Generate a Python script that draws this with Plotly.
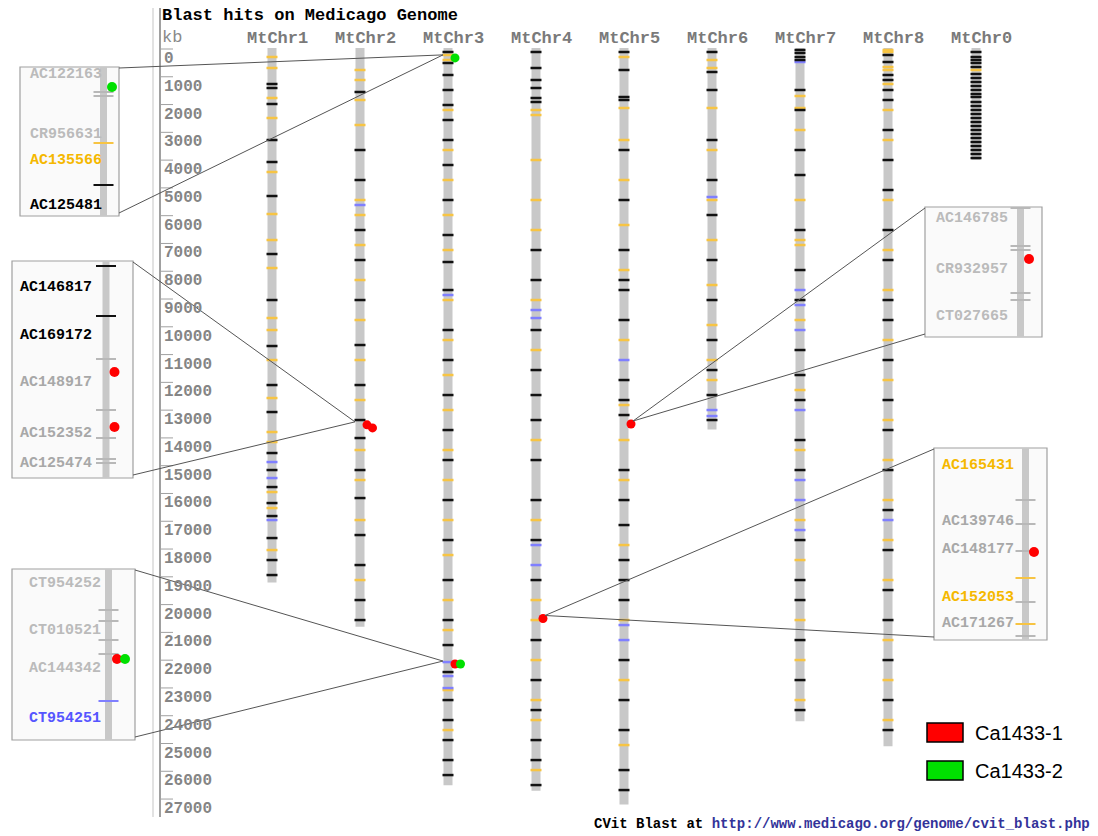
import plotly.graph_objects as go

# ---------------- page geometry (pixels) ----------------
W, H = 1098, 836
X0, DX = 272.0, 88.0            # x pixel of MtChr1 centre, spacing between chromosomes
Y0, PX_PER_KB = 49.0, 0.02778   # y pixel of 0 kb, pixels per kb

# ---------------- data ----------------
chrom_names = ["MtChr1", "MtChr2", "MtChr3", "MtChr4", "MtChr5",
               "MtChr6", "MtChr7", "MtChr8", "MtChr0"]
chrom_len_kb = [19200, 20800, 26500, 26700, 27200, 13700, 24200, 25100, 4000]

# BAC / clone bands (kb) by colour class, one list per chromosome
black_bands = [
    [1260, 1404, 1980, 3276, 4068, 5292, 7380, 9036, 10692, 12096, 13068, 14544,
     15156, 15768, 16344, 16812, 17604, 18396, 18936],
    [1548, 3636, 4716, 6516, 7596, 9036, 10656, 12096, 13356, 14004, 15156, 16164,
     17496, 18576, 19836, 20556],
    [108, 504, 936, 1476, 2016, 2556, 3276, 4176, 5436, 6696, 7668, 8676, 10116,
     11196, 12456, 13716, 14796, 16236, 17676, 19116, 20556, 21456, 22428, 23436,
     24156, 24876, 25596, 26136],
    [108, 684, 1116, 1404, 1764, 1908, 7236, 8316, 10116, 11556, 12456, 13356,
     14796, 16236, 17676, 19116, 21276, 22716, 23796, 24876, 25596, 26496],
    [108, 756, 1728, 1836, 3636, 5436, 7236, 8316, 8676, 9756, 11916, 12636, 13176,
     15156, 16236, 17136, 18396, 19116, 19836, 21996, 23436, 24516, 25956, 26676],
    [108, 828, 1476, 3276, 4716, 5976, 7596, 9036, 10476, 11556, 12456, 13356],
    [36, 144, 288, 396, 1476, 2196, 3636, 4536, 6516, 7956, 9036, 10836, 11736,
     12636, 14076, 15156, 17676, 19116, 19836, 21276, 22716, 23796],
    [216, 468, 936, 1116, 1476, 1836, 2916, 3996, 5076, 6516, 7596, 9036, 9756,
     11196, 12636, 13716, 15156, 16596, 18036, 19476, 20556, 21996, 23436, 24516],
    [108, 288, 396, 504, 648, 900, 1044, 1188, 1332, 1476, 1620, 1728, 1908, 2052,
     2196, 2340, 2484, 2628, 2772, 2916, 3060, 3204, 3348, 3492, 3636, 3780, 3924],
]
orange_bands = [
    [288, 684, 1764, 2484, 4428, 5940, 6876, 7884, 9684, 10116, 11196, 12564,
     13788, 14148, 15948, 16524, 18036],
    [756, 1116, 1836, 2736, 5436, 5976, 7056, 8316, 9756, 11196, 12636, 14436,
     15516, 16956, 19116],
    [216, 396, 2196, 3636, 4716, 5976, 7236, 9036, 10476, 11736, 12996, 14436,
     15516, 16956, 18216, 19836, 20916, 23076, 24516],
    [2196, 2376, 3996, 5436, 6516, 9036, 10836, 14076, 16956, 19836, 20556, 21996,
     23436, 24156, 25956],
    [288, 2124, 3276, 4716, 6336, 7956, 10476, 12816, 14076, 15516, 17856, 20556,
     22716, 25056],
    [396, 684, 2124, 3636, 5436, 6876, 8496, 9936, 11196, 11916],
    [1692, 2124, 2916, 5436, 6876, 7056, 9756, 12276, 14436, 16956, 18396, 20556,
     21996, 23436],
    [36, 108, 648, 756, 1260, 2196, 3276, 5436, 7236, 8676, 10476, 11916, 13356,
     14796, 16236, 17676, 19116, 21276, 22716, 24156],
    [756],
]
blue_bands = [
    [14868, 15444, 16956],
    [5616],
    [8856, 22068, 22572, 23004],
    [9396, 9684, 17856, 18576],
    [11196, 20736, 21276],
    [5328, 12996, 13212],
    [468, 8676, 9216, 10116, 12996, 15516, 16236, 17316],
    [16956],
    [],
]

axis_ticks_kb = [0, 1000, 2000, 3000, 4000, 5000, 6000, 7000, 8000, 9000, 10000,
                 11000, 12000, 13000, 14000, 15000, 16000, 17000, 18000, 19000,
                 20000, 21000, 22000, 23000, 24000, 25000, 26000, 27000]

# BLAST hits: chromosome index and position (kb) per query
series_names = ["Ca1433-1", "Ca1433-2"]
series_colors = ["#ff0000", "#00e000"]
hit_chrom = [[1, 1, 2, 3, 4], [2, 2]]
hit_kb = [[13530, 13640, 22140, 20500, 13500], [320, 22140]]

# Zoomed clone views around each hit region
inset_chrom = [2, 1, 2, 4, 3]
inset_start_kb = [240, 13308, 21870, 13344, 20188]
inset_end_kb = [836, 13742, 22383, 13734, 20764]
inset_labels = [
    ["AC122163", "CR956631", "AC135566", "AC125481"],
    ["AC146817", "AC169172", "AC148917", "AC152352", "AC125474"],
    ["CT954252", "CT010521", "AC144342", "CT954251"],
    ["AC146785", "CR932957", "CT027665"],
    ["AC165431", "AC139746", "AC148177", "AC152053", "AC171267"],
]
inset_label_kb = [
    [268, 508, 612, 792],
    [13360, 13456, 13550, 13652, 13712],
    [21912, 22053, 22167, 22317],
    [13380, 13533, 13674],
    [20239, 20407, 20491, 20635, 20713],
]
inset_label_cls = [
    ["lgray", "lgray", "orange", "black"],
    ["black", "black", "gray", "gray", "gray"],
    ["lgray", "lgray", "lgray", "blue"],
    ["lgray", "lgray", "lgray"],
    ["orange", "gray", "gray", "orange", "gray"],
]
inset_tick_kb = [
    [340, 356, 544, 712],
    [13318, 13418, 13504, 13606, 13662, 13704, 13712],
    [21993, 22026, 22083, 22125, 22266],
    [13347, 13461, 13473, 13602, 13623],
    [20344, 20416, 20497, 20578, 20650, 20716, 20752],
]
inset_tick_cls = [
    ["gray", "gray", "orange", "black"],
    ["black", "black", "gray", "gray", "gray", "gray", "gray"],
    ["gray", "gray", "gray", "gray", "blue"],
    ["gray", "gray", "gray", "gray", "gray"],
    ["gray", "gray", "gray", "orange", "gray", "orange", "gray"],
]

# ---------------- styling ----------------
band_color = {"black": "#111111", "orange": "#f7c443", "blue": "#7f7fff",
              "gray": "#b8b8b8"}
label_color = {"black": "#000000", "orange": "#f5b800", "blue": "#5555ff",
               "gray": "#a8a8a8", "lgray": "#bbbbbb"}
MONO = "Liberation Mono"

# inset boxes: left, top, right, bottom (pixels); clone bar x and label x inside box
inset_box = [(20, 67, 119, 216), (12, 261, 133, 478), (12, 569, 135, 740),
             (925, 207, 1042, 337), (934, 448, 1047, 640)]
inset_bar_x = [83.5, 94, 96.5, 95.5, 91.5]
inset_text_x = [8, 6, 15, 9, 6]


def xd(px):
    return (px - X0) / DX


def yd(py):
    return (py - Y0) / PX_PER_KB


fig = go.Figure()

# ---- left kb axis ----
fig.add_trace(go.Scatter(x=[xd(153), xd(153)], y=[yd(8), yd(817)], mode="lines",
                         line=dict(color="#e2e2e2", width=2), hoverinfo="skip"))
fig.add_trace(go.Scatter(x=[xd(160), xd(160)], y=[yd(8), yd(817)], mode="lines",
                         line=dict(color="#a0a0a0", width=2), hoverinfo="skip"))
tx, ty = [], []
for t in axis_ticks_kb:
    tx += [xd(161), xd(173), None]
    ty += [t, t, None]
fig.add_trace(go.Scatter(x=tx, y=ty, mode="lines", line=dict(color="#a0a0a0", width=1),
                         hoverinfo="skip"))
for t in axis_ticks_kb:
    fig.add_annotation(x=xd(162), y=t, xref="x", yref="y", text=f"<b>{t}</b>",
                       showarrow=False, xanchor="left", yanchor="top", yshift=1,
                       font=dict(family=MONO, size=16, color="#858585"))

# ---- chromosomes ----
cx, cy = [], []
for i, L in enumerate(chrom_len_kb):
    cx += [i, i, None]
    cy += [-40, L, None]
fig.add_trace(go.Scatter(x=cx, y=cy, mode="lines", line=dict(color="#c8c8c8", width=9),
                         hoverinfo="skip"))

half = 5.5 / DX
for cls, bands in (("orange", orange_bands), ("blue", blue_bands), ("black", black_bands)):
    bx, by = [], []
    for i, lst in enumerate(bands):
        for b in lst:
            bx += [i - half, i + half, None]
            by += [b, b, None]
    fig.add_trace(go.Scatter(x=bx, y=by, mode="lines",
                             line=dict(color=band_color[cls], width=2.5),
                             hoverinfo="skip"))

for i, name in enumerate(chrom_names):
    fig.add_annotation(x=i, y=yd(38), xref="x", yref="y", text=f"<b>{name}</b>",
                       showarrow=False, xshift=5,
                       font=dict(family=MONO, size=17, color="#7a7a7a"))

# ---- hits on chromosomes (dots stacked sideways when close) ----
placed = []
for s, name in enumerate(series_names):
    xs, ys = [], []
    for c, k in zip(hit_chrom[s], hit_kb[s]):
        n = sum(1 for (pc, pk) in placed if pc == c and abs(pk - k) < 400)
        placed.append((c, k))
        xs.append(c + (7 + 5.5 * n) / DX)
        ys.append(k)
    fig.add_trace(go.Scatter(x=xs, y=ys, mode="markers", name=name,
                             marker=dict(color=series_colors[s], size=9, line=dict(width=0)),
                             showlegend=False))

# ---- inset clone views ----
all_hits = [(c, k, s) for s in range(len(series_names))
            for c, k in zip(hit_chrom[s], hit_kb[s])]
shapes = []
for n in range(5):
    ax = n + 2
    l, t, r, b = inset_box[n]
    xa, ya = f"x{ax}", f"y{ax}"
    fig.update_layout(**{
        f"xaxis{ax}": dict(domain=[l / W, r / W], range=[0, r - l], anchor=ya,
                           visible=False, fixedrange=True),
        f"yaxis{ax}": dict(domain=[1 - b / H, 1 - t / H],
                           range=[inset_end_kb[n], inset_start_kb[n]], anchor=xa,
                           visible=False, fixedrange=True),
    })
    shapes.append(dict(type="rect", xref=f"{xa} domain", yref=f"{ya} domain",
                       x0=0, x1=1, y0=0, y1=1, fillcolor="#fafafa",
                       line=dict(color="#a0a0a0", width=1.2), layer="below"))
    bxv = inset_bar_x[n]
    fig.add_trace(go.Scatter(x=[bxv, bxv], y=[inset_start_kb[n], inset_end_kb[n]],
                             xaxis=xa, yaxis=ya, mode="lines",
                             line=dict(color="#c8c8c8", width=7), hoverinfo="skip"))
    for k, cls in zip(inset_tick_kb[n], inset_tick_cls[n]):
        fig.add_trace(go.Scatter(x=[bxv - 10, bxv + 10], y=[k, k], xaxis=xa, yaxis=ya,
                                 mode="lines", line=dict(color=band_color[cls], width=2),
                                 hoverinfo="skip"))
    for lab, k, cls in zip(inset_labels[n], inset_label_kb[n], inset_label_cls[n]):
        fig.add_annotation(x=inset_text_x[n], y=k, xref=xa, yref=ya, text=f"<b>{lab}</b>",
                           showarrow=False, xanchor="left", yanchor="middle",
                           font=dict(family=MONO, size=15, color=label_color[cls]))
    # hits that fall inside this view
    inside = [(k, s) for (c, k, s) in all_hits
              if c == inset_chrom[n] and inset_start_kb[n] <= k <= inset_end_kb[n]]
    seen = []
    for k, s in inside:
        m = sum(1 for pk in seen if abs(pk - k) < 30)
        seen.append(k)
        fig.add_trace(go.Scatter(x=[bxv + 8.5 + 8 * m], y=[k], xaxis=xa, yaxis=ya,
                                 mode="markers", showlegend=False,
                                 marker=dict(color=series_colors[s], size=10)))
    # callout lines from the box to the hit on its chromosome
    first_kb = inside[0][0]
    left_side = l < X0
    hx = inset_chrom[n] + ((-5 if left_side else 9) / DX)
    hy = first_kb - 3 / PX_PER_KB
    cxp = r if left_side else l
    fig.add_trace(go.Scatter(x=[xd(cxp), hx, xd(cxp)], y=[yd(t + 1), hy, yd(b - 3)],
                             mode="lines", line=dict(color="#555555", width=1),
                             hoverinfo="skip"))

# ---- legend ----
for s, name in enumerate(series_names):
    top = 723 + 38 * s
    shapes.append(dict(type="rect", xref="paper", yref="paper",
                       x0=927 / W, x1=963 / W, y0=1 - (top + 19) / H, y1=1 - top / H,
                       fillcolor=series_colors[s], line=dict(color="#000000", width=1.5)))
    fig.add_annotation(x=973 / W, y=1 - (top + 10) / H, xref="paper", yref="paper",
                       text=name, showarrow=False, xanchor="left", yanchor="middle",
                       font=dict(family="Liberation Sans", size=20, color="#000000"))

# ---- titles ----
fig.add_annotation(x=160 / W, y=1 - 16 / H, xref="paper", yref="paper",
                   text="<b>Blast hits on Medicago Genome</b>", showarrow=False,
                   xanchor="left", yanchor="middle",
                   font=dict(family=MONO, size=17, color="#000000"))
fig.add_annotation(x=160 / W, y=1 - 38 / H, xref="paper", yref="paper", text="kb",
                   showarrow=False, xanchor="left", yanchor="middle",
                   font=dict(family=MONO, size=17, color="#8a8a8a"))
fig.add_annotation(x=592 / W, y=1 - 824 / H, xref="paper", yref="paper",
                   text="<b>CVit Blast at <span style='color:#333399'>"
                        "http://www.medicago.org/genome/cvit_blast.php</span></b>",
                   showarrow=False, xanchor="left", yanchor="middle",
                   font=dict(family=MONO, size=14, color="#000000"))

fig.update_layout(
    width=W, height=H, margin=dict(l=0, r=0, t=0, b=0),
    paper_bgcolor="#ffffff", plot_bgcolor="rgba(0,0,0,0)",
    showlegend=False, shapes=shapes,
    xaxis=dict(domain=[0, 1], range=[xd(0), xd(W)], visible=False, fixedrange=True),
    yaxis=dict(domain=[0, 1], range=[yd(H), yd(0)], visible=False, fixedrange=True),
)

fig.write_html("out.html")
